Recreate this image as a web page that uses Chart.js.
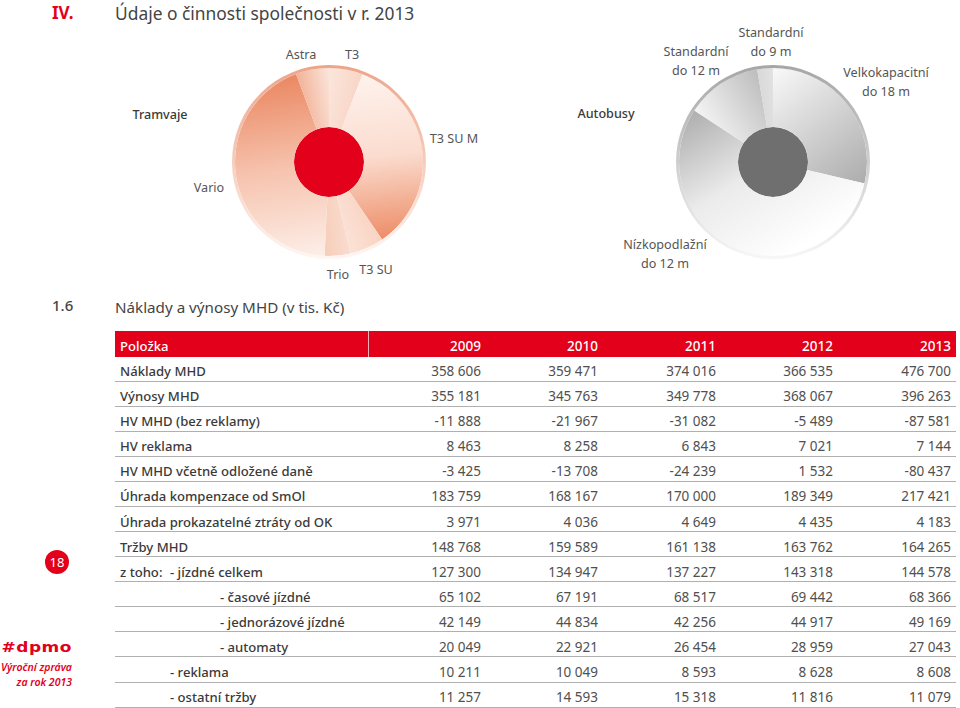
<!DOCTYPE html>
<html lang="cs">
<head>
<meta charset="utf-8">
<title>Údaje o činnosti společnosti v r. 2013</title>
<script src="https://cdn.jsdelivr.net/npm/chart.js@4"></script>
<style>
  html, body { margin: 0; padding: 0; background: #fff; }
  body { position: relative; width: 960px; height: 708px; overflow: hidden; font-family: "Noto Sans", sans-serif; color: #444; }
  .abs { position: absolute; white-space: nowrap; }
  .lbl { position: absolute; white-space: nowrap; transform: translate(-50%, -50%); font-size: 12.6px; line-height: 19px; text-align: center; color: #555; }
  .dark { color: #3a3a3a; font-weight: 500; }
  canvas { position: absolute; }
  table { position: absolute; left: 115px; top: 331px; width: 841px; border-collapse: separate; border-spacing: 0; table-layout: fixed; font-size: 13.5px; }
  th { box-sizing: border-box; background: #e2001a; color: #fff; font-weight: 500; height: 25.5px; padding: 5px 5px 0; text-align: right; }
  th:first-child { text-align: left; font-size: 13.1px; border-right: 1px solid #f4b0b8; }
  td { box-sizing: border-box; height: 25.08px; padding: 5px 5px 0; text-align: right; border-bottom: 1px solid #b0b0b0; color: #505050; white-space: nowrap; }
  td:first-child { text-align: left; font-size: 13.1px; font-weight: 500; color: #3a3a3a; position: relative; }
  .prefix { position: absolute; left: 5px; }
  #badge { position: absolute; left: 45px; top: 550px; width: 24px; height: 24px; border-radius: 50%; background: #e2001a; color: #fff; font-size: 13px; line-height: 24px; text-align: center; }
  #logo { position: absolute; right: 888px; top: 637px; color: #e2001a; font: bold 17px/20px "DejaVu Sans", sans-serif; letter-spacing: 0.5px; transform: scaleY(0.8); }
  #report { position: absolute; right: 888px; top: 660px; color: #e2001a; font-size: 10.5px; line-height: 15px; font-style: italic; font-weight: 600; text-align: right; white-space: nowrap; }
</style>
</head>
<body>
<div class="abs" style="left:52px;top:1px;font-size:17px;font-weight:700;color:#e2001a">IV.</div>
<div class="abs" style="left:115px;top:1px;font-size:17.4px;color:#444">Údaje o činnosti společnosti v r. 2013</div>
<div class="abs" style="left:52px;top:295px;font-size:15px;font-weight:500;color:#444">1.6</div>
<div class="abs" style="left:115px;top:297px;font-size:15.2px;color:#444">Náklady a výnosy MHD (v tis. Kč)</div>

<div class="lbl dark" style="left:160px;top:114px">Tramvaje</div>
<div class="lbl" style="left:301px;top:54px">Astra</div>
<div class="lbl" style="left:352px;top:54px">T3</div>
<div class="lbl" style="left:454px;top:138px">T3 SU M</div>
<div class="lbl" style="left:376px;top:269px">T3 SU</div>
<div class="lbl" style="left:338px;top:274px">Trio</div>
<div class="lbl" style="left:209px;top:187px">Vario</div>
<div class="lbl dark" style="left:606px;top:113px">Autobusy</div>
<div class="lbl" style="left:696px;top:61px">Standardní<br>do 12 m</div>
<div class="lbl" style="left:771px;top:42px">Standardní<br>do 9 m</div>
<div class="lbl" style="left:886px;top:82px">Velkokapacitní<br>do 18 m</div>
<div class="lbl" style="left:665px;top:254px">Nízkopodlažní<br>do 12 m</div>

<canvas id="tramChart" width="196" height="196" style="left:231px;top:64px"></canvas>
<canvas id="busChart" width="196" height="196" style="left:675px;top:64px"></canvas>

<table id="costTable"></table>

<div id="badge">18</div>
<div id="logo">#dpmo</div>
<div id="report">Výroční zpráva<br>za rok 2013</div>

<script>
const tramLabels = ["T3", "T3 SU M", "T3 SU", "Trio", "Vario", "Astra"];
const tramShares = [5.8, 34.6, 5.9, 4.4, 43.5, 5.7];
const busLabels = ["Velkokapacitní do 18 m", "Nízkopodlažní do 12 m", "Standardní do 12 m", "Standardní do 9 m"];
const busShares = [28.7, 55.6, 13.1, 2.7];

// Table data
const years = ["2009", "2010", "2011", "2012", "2013"];
const rowLabels = [
  "Náklady MHD", "Výnosy MHD", "HV MHD (bez reklamy)", "HV reklama", "HV MHD včetně odložené daně",
  "Úhrada kompenzace od SmOl", "Úhrada prokazatelné ztráty od OK", "Tržby MHD", "- jízdné celkem",
  "- časové jízdné", "- jednorázové jízdné", "- automaty", "- reklama", "- ostatní tržby"
];
const values2009 = [358606, 355181, -11888, 8463, -3425, 183759, 3971, 148768, 127300, 65102, 42149, 20049, 10211, 11257];
const values2010 = [359471, 345763, -21967, 8258, -13708, 168167, 4036, 159589, 134947, 67191, 44834, 22921, 10049, 14593];
const values2011 = [374016, 349778, -31082, 6843, -24239, 170000, 4649, 161138, 137227, 68517, 42256, 26454, 8593, 15318];
const values2012 = [366535, 368067, -5489, 7021, 1532, 189349, 4435, 163762, 143318, 69442, 44917, 28959, 8628, 11816];
const values2013 = [476700, 396263, -87581, 7144, -80437, 217421, 4183, 164265, 144578, 68366, 49169, 27043, 8608, 11079];

// Styling, kept apart from the data
const rowIndents = [0, 0, 0, 0, 0, 0, 0, 0, 50, 100, 100, 100, 50, 50];
// colour stops of each slice, plus an optional angle (deg) where the gradient starts instead of the slice edge
const tramColors = [
  { stops: ["#fbe6dc", "#f8d5c6"] }, { stops: ["#fef3ee", "#fbdccf", "#ec8a63"] }, { stops: ["#f9d3c2", "#fbe3d8"] },
  { stops: ["#f9dccf", "#f7cdb9"] }, { stops: ["#fdf0ea", "#f6c3ae", "#ea8660"] }, { stops: ["#f2b196", "#fbe6dc"] }
];
const busColors = [
  { stops: ["#fafafa", "#ababab"] }, { stops: ["#ffffff", "#ebebeb", "#adadad"], from: 175 },
  { stops: ["#f5f5f5", "#bcbcbc"] }, { stops: ["#d8d8d8", "#e2e2e2"] }
];

function fmt(v) {
  return String(v).replace(/\B(?=(\d{3})+$)/g, " ");
}

// linear gradient running from the start edge of a slice to its end edge
function sliceGradient(context, colors) {
  const chart = context.chart;
  const style = colors[context.dataIndex];
  if (!chart.chartArea) return style.stops[0];
  const data = context.dataset.data;
  const total = data.reduce((a, b) => a + b, 0);
  let before = 0;
  for (let i = 0; i < context.dataIndex; i++) before += data[i];
  const a0 = style.from !== undefined ? style.from * Math.PI / 180 : (before / total) * 2 * Math.PI;
  const a1 = ((before + data[context.dataIndex]) / total) * 2 * Math.PI;
  const cx = (chart.chartArea.left + chart.chartArea.right) / 2;
  const cy = (chart.chartArea.top + chart.chartArea.bottom) / 2;
  const r = (chart.chartArea.right - chart.chartArea.left) / 2;
  const g = chart.ctx.createLinearGradient(
    cx + r * Math.sin(a0), cy - r * Math.cos(a0),
    cx + r * Math.sin(a1), cy - r * Math.cos(a1)
  );
  style.stops.forEach((c, i) => g.addColorStop(i / (style.stops.length - 1), c));
  return g;
}

function ringGradient(context, top, bottom) {
  const chart = context.chart;
  if (!chart.chartArea) return top;
  const g = chart.ctx.createLinearGradient(0, chart.chartArea.top, 0, chart.chartArea.bottom);
  g.addColorStop(0, top);
  g.addColorStop(1, bottom);
  return g;
}

function drawWheel(id, labels, shares, colors, ringTop, ringBottom, hub) {
  new Chart(document.getElementById(id), {
    type: "doughnut",
    data: {
      labels: labels,
      datasets: [
        // thin rim, slices, then the solid hub
        { data: [1], weight: 3, borderWidth: 0, backgroundColor: (c) => ringGradient(c, ringTop, ringBottom) },
        { data: shares, weight: 59, borderWidth: 0, backgroundColor: (c) => sliceGradient(c, colors) },
        { data: [1], weight: 35, borderWidth: 0, backgroundColor: hub }
      ]
    },
    options: {
      responsive: false,
      animation: false,
      cutout: 0,
      layout: { padding: 1 },
      plugins: { legend: { display: false }, tooltip: { enabled: false } }
    }
  });
}

drawWheel("tramChart", tramLabels, tramShares, tramColors, "#eda488", "#fef6f2", "#e2001a");
drawWheel("busChart", busLabels, busShares, busColors, "#a6a6a6", "#f7f7f7", "#6f6f70");

// Build the table
const table = document.getElementById("costTable");
const columns = [values2009, values2010, values2011, values2012, values2013];
let html = '<colgroup><col style="width:254px"><col style="width:117px"><col style="width:117px"><col style="width:118px"><col style="width:117px"><col style="width:118px"></colgroup>';
html += "<tr><th>Položka</th>" + years.map((y) => "<th>" + y + "</th>").join("") + "</tr>";
rowLabels.forEach((label, i) => {
  const prefix = label === "- jízdné celkem" ? '<span class="prefix">z toho:</span>' : "";
  html += '<tr><td>' + prefix + '<span style="margin-left:' + rowIndents[i] + 'px">' + label + "</span></td>";
  columns.forEach((col) => { html += "<td>" + fmt(col[i]) + "</td>"; });
  html += "</tr>";
});
table.innerHTML = html;
</script>
</body>
</html>
